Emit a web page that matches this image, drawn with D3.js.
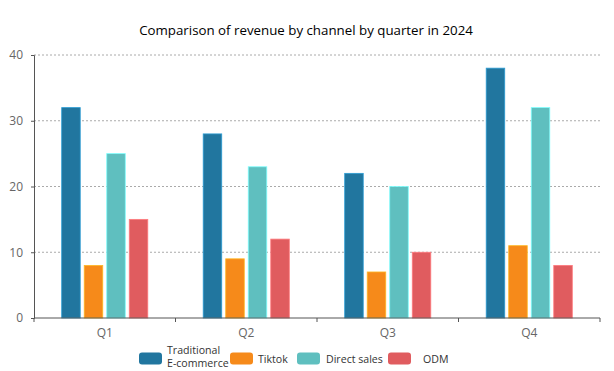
<!DOCTYPE html>
<html>
<head>
<meta charset="utf-8">
<style>
  body { margin: 0; background: #fff; font-family: "Open Sans", "Noto Sans", sans-serif; }
  .axis text { fill: #666; font-size: 12px; font-family: "Open Sans", sans-serif; }
  .axis .domain, .axis .tick line { stroke: #555; }
  .grid line { stroke: #aaa; stroke-dasharray: 2,2; }
  .legend text { fill: #333; font-size: 10.6px; }
</style>
<script src="https://cdnjs.cloudflare.com/ajax/libs/d3/7.8.5/d3.min.js"></script>
</head>
<body>
<svg id="chart" width="614" height="371"></svg>
<script>
var quarters = ["Q1", "Q2", "Q3", "Q4"];
var channels = ["Traditional E-commerce", "Tiktok", "Direct sales", "ODM"];
var traditional = [32, 28, 22, 38];
var tiktok = [8, 9, 7, 11];
var directSales = [25, 23, 20, 32];
var odm = [15, 12, 10, 8];
var yTicks = [0, 10, 20, 30, 40];
var colors = ["#21769f", "#f68a1a", "#5fbfbf", "#e05c5f"];

var series = [traditional, tiktok, directSales, odm];

var svg = d3.select("#chart");
var plotLeft = 34, plotRight = 600, plotTop = 55, plotBottom = 318;

var x = d3.scaleBand().domain(quarters).range([plotLeft, plotRight]);
var x1 = d3.scaleBand().domain(d3.range(channels.length))
    .range([0, x.bandwidth()]).paddingInner(0.177).paddingOuter(1.23);
var y = d3.scaleLinear().domain([0, 40]).range([plotBottom, plotTop]);

svg.append("text")
    .attr("x", 306).attr("y", 35)
    .attr("text-anchor", "middle")
    .style("font-size", "13.3px").style("fill", "#000")
    .text("Comparison of revenue by channel by quarter in 2024");

// grid
svg.append("g").attr("class", "grid")
  .selectAll("line").data(yTicks.slice(1)).join("line")
    .attr("x1", plotLeft).attr("x2", plotRight)
    .attr("y1", function(d) { return y(d); })
    .attr("y2", function(d) { return y(d); });

// bars
quarters.forEach(function(q, qi) {
  series.forEach(function(s, si) {
    svg.append("rect")
      .attr("x", x(q) + x1(si))
      .attr("y", y(s[qi]))
      .attr("width", x1.bandwidth())
      .attr("height", y(0) - y(s[qi]))
      .attr("fill", colors[si])
      .attr("stroke", d3.color(colors[si]).brighter(0.8))
      .attr("stroke-width", 0.8);
  });
});

svg.append("g").attr("class", "axis")
    .attr("transform", "translate(" + plotLeft + ",0)")
    .call(d3.axisLeft(y).tickValues(yTicks).tickSize(3).tickPadding(8));

var xAxis = svg.append("g").attr("class", "axis")
    .attr("transform", "translate(0," + plotBottom + ")")
    .call(d3.axisBottom(x).tickSize(0).tickPadding(10));
xAxis.selectAll(".domain").attr("d", "M" + plotLeft + ",0H" + plotRight);
xAxis.selectAll(".bnd").data(d3.range(quarters.length + 1)).join("line")
    .attr("x1", function(i) { return plotLeft + i * x.step(); })
    .attr("x2", function(i) { return plotLeft + i * x.step(); })
    .attr("y1", 0).attr("y2", 4)
    .attr("stroke", "#555");

// legend
var legendX = [139, 230, 297, 388];
var textX = [167, 258, 326, 423];
var legend = svg.append("g").attr("class", "legend");
channels.forEach(function(c, i) {
  legend.append("rect")
    .attr("x", legendX[i]).attr("y", 352.5)
    .attr("width", 23).attr("height", 12).attr("rx", 3)
    .attr("fill", colors[i]);
  if (i === 0) {
    var t = legend.append("text").attr("x", textX[i]).attr("y", 354);
    t.append("tspan").attr("x", textX[i]).text("Traditional");
    t.append("tspan").attr("x", textX[i]).attr("dy", 13).text("E-commerce");
  } else {
    legend.append("text").attr("x", textX[i]).attr("y", 362.5).text(c);
  }
});
</script>
</body>
</html>
